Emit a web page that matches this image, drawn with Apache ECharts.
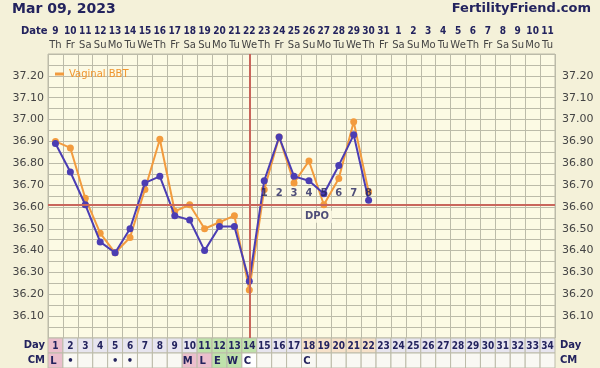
<!DOCTYPE html>
<html><head><meta charset="utf-8">
<script src="https://cdn.jsdelivr.net/npm/echarts@6/dist/echarts.min.js"></script>
<style>html,body{margin:0;padding:0;background:#f4f1d9}#c{width:600px;height:368px}</style>
</head><body><div id="c"></div>
<script>
// ---- data ----
const cycleDays = ['1','2','3','4','5','6','7','8','9','10','11','12','13','14','15','16','17','18','19','20','21','22','23','24','25','26','27','28','29','30','31','32','33','34'];
const dateLabels = ['9','10','11','12','13','14','15','16','17','18','19','20','21','22','23','24','25','26','27','28','29','30','31','1','2','3','4','5','6','7','8','9','10','11'];
const weekdays = ['Th','Fr','Sa','Su','Mo','Tu','We','Th','Fr','Sa','Su','Mo','Tu','We','Th','Fr','Sa','Su','Mo','Tu','We','Th','Fr','Sa','Su','Mo','Tu','We','Th','Fr','Sa','Su','Mo','Tu'];
const bbt = [36.89,36.76,36.61,36.44,36.39,36.50,36.71,36.74,36.56,36.54,36.40,36.51,36.51,36.26,36.72,36.92,36.74,36.72,36.66,36.79,36.93,36.63];
const vaginalBBT = [36.90,36.87,36.64,36.48,36.39,36.46,36.68,36.91,36.58,36.61,36.50,36.53,36.56,36.22,36.68,36.92,36.71,36.81,36.61,36.73,36.99,36.67];
const coverline = 36.61;
const ovulationDay = '14';
const dpoLabels = ['1','2','3','4','5','6','7','8'];
const dpoStartDay = 15;
const cmCodes = ['L','•','','','•','•','','','','M','L','E','W','C','','','','C','','','','','','','','','','','','','','','',''];
const tableRows = ['Day','CM'];
const yMin = 36.0, yMax = 37.3, yStep = 0.05;

// ---- styles ----
const NAVY = '#23235e';
const FONT = '"DejaVu Sans", Verdana, sans-serif';
const CFONT = '"DejaVu Sans Condensed", "Liberation Sans Narrow", "Liberation Sans", sans-serif';
const GRIDC = '#bcbba9';
function dayFill(d){
  if (d === 1) return '#ebbfcd';
  if (d >= 11 && d <= 14) return '#bfe2ab';
  if (d >= 18 && d <= 22) return '#f6e1c9';
  return '#e7e5ef';
}
function cmFill(code, d){
  if (code === 'L' || code === 'M') return '#ebbfcd';
  if (code === 'E' || code === 'W') return '#bfe2ab';
  if (code === 'C' && d === 14) return '#ffffff';
  return '#f9f8f3';
}

const tableData = [];
cycleDays.forEach((d, i) => {
  tableData.push([i, 0, d]);
  tableData.push([i, 1, cmCodes[i]]);
});

const dpoData = dpoLabels.map((t, i) => ({value: [String(dpoStartDay + i), coverline + 0.05], label: {formatter: t}}));

const yFmt = v => { const k = Math.round(v * 100); return (k % 10 === 0 && k >= 3610 && k <= 3720) ? (k / 100).toFixed(2) : ''; };

const chart = echarts.init(document.getElementById('c'), null, {renderer: 'canvas'});
chart.setOption({
  animation: false,
  backgroundColor: '#f4f1d9',
  textStyle: {fontFamily: FONT},
  graphic: [
    {type: 'text', left: 12, top: 2, style: {text: 'Mar 09, 2023', font: 'bold 14px ' + FONT, fill: NAVY}},
    {type: 'text', right: 9, top: 2, style: {text: 'FertilityFriend.com', font: 'bold 13px ' + FONT, fill: NAVY}},
    {type: 'text', left: 21, top: 26, style: {text: 'Date', font: 'bold 10px ' + FONT, fill: NAVY}}
  ],
  legend: {
    data: ['Vaginal BBT'], left: 53, top: 67, icon: 'rect', itemWidth: 9, itemHeight: 3, itemGap: 4,
    padding: [2, 2], textStyle: {color: '#f0962f', fontSize: 10, fontFamily: FONT}
  },
  grid: [
    {left: 48, right: 45, top: 54, height: 284, show: true, backgroundColor: '#fcfae4', borderColor: GRIDC, borderWidth: 1},
    {left: 48, right: 45, top: 338, height: 30, show: false}
  ],
  xAxis: [
    {type: 'category', gridIndex: 0, data: cycleDays, position: 'top', boundaryGap: true,
     axisLine: {show: false}, axisTick: {show: false},
     splitLine: {show: true, interval: 0, lineStyle: {color: GRIDC, width: 1}},
     axisLabel: {interval: 0, margin: 2, formatter: (v, i) => '{d|' + dateLabels[i] + '}\n{w|' + weekdays[i] + '}',
       rich: {d: {fontWeight: 'bold', fontSize: 10, color: NAVY, lineHeight: 14, fontFamily: CFONT},
              w: {fontSize: 10, color: '#444', lineHeight: 14, fontFamily: FONT}}}},
    {type: 'category', gridIndex: 1, data: cycleDays, boundaryGap: true, show: false}
  ],
  yAxis: [
    {type: 'value', gridIndex: 0, min: yMin, max: yMax, interval: yStep,
     axisLine: {show: false}, axisTick: {show: false},
     splitLine: {show: true, lineStyle: {color: GRIDC, width: 1}},
     axisLabel: {formatter: yFmt, color: '#444', fontSize: 11, margin: 4, fontFamily: FONT}},
    {type: 'value', gridIndex: 0, min: yMin, max: yMax, interval: yStep, position: 'right',
     axisLine: {show: false}, axisTick: {show: false}, splitLine: {show: false},
     axisLabel: {formatter: yFmt, color: '#444', fontSize: 11, margin: 7, fontFamily: FONT}},
    {type: 'category', gridIndex: 1, data: tableRows, inverse: true,
     axisLine: {show: false}, axisTick: {show: false}, splitLine: {show: false},
     axisLabel: {color: NAVY, fontWeight: 'bold', fontSize: 10, margin: 3, fontFamily: FONT}},
    {type: 'category', gridIndex: 1, data: tableRows, inverse: true, position: 'right',
     axisLine: {show: false}, axisTick: {show: false}, splitLine: {show: false},
     axisLabel: {color: NAVY, fontWeight: 'bold', fontSize: 10, margin: 5, align: 'left', fontFamily: FONT}}
  ],
  series: [
    {type: 'line', name: 'refLines', xAxisIndex: 0, yAxisIndex: 0, data: [], silent: true,
     markLine: {silent: true, symbol: 'none', label: {show: false},
       lineStyle: {color: '#c9665c', width: 2, type: 'solid'},
       data: [{yAxis: coverline}, {xAxis: ovulationDay}]}},
    {type: 'line', name: 'Vaginal BBT', xAxisIndex: 0, yAxisIndex: 0, data: vaginalBBT, z: 3,
     color: '#f29b3e', lineStyle: {width: 2, color: '#f29b3e'}, symbol: 'circle', symbolSize: 7,
     itemStyle: {color: '#f29b3e'}},
    {type: 'line', name: 'BBT', xAxisIndex: 0, yAxisIndex: 0, data: bbt, z: 4,
     color: '#4b3db3', lineStyle: {width: 2, color: '#4b3db3'}, symbol: 'circle', symbolSize: 7,
     itemStyle: {color: '#4b3db3'}},
    {type: 'scatter', xAxisIndex: 0, yAxisIndex: 0, data: dpoData, symbolSize: 0, z: 6, silent: true,
     label: {show: true, position: 'inside', color: NAVY, fontWeight: 'bold', fontSize: 10, fontFamily: FONT}},
    {type: 'scatter', xAxisIndex: 0, yAxisIndex: 0, data: [{value: ['18', coverline - 0.055]}], symbolSize: 0, z: 6, silent: true,
     label: {show: true, position: 'inside', offset: [8, 0], formatter: 'DPO', color: NAVY, fontWeight: 'bold', fontSize: 10, fontFamily: FONT,
       backgroundColor: '#fcfae4', padding: [1, 3]}},
    {type: 'custom', xAxisIndex: 1, yAxisIndex: 2, data: tableData, silent: true,
     renderItem: (params, api) => {
       const xi = api.value(0), yi = api.value(1);
       const d = xi + 1;
       const text = tableData[params.dataIndex][2];
       const p = api.coord([xi, yi]);
       const s = api.size([1, 1]);
       const fill = yi === 0 ? dayFill(d) : cmFill(text, d);
       return {type: 'group', children: [
         {type: 'rect', shape: {x: p[0] - s[0] / 2, y: p[1] - s[1] / 2, width: s[0], height: s[1]},
          style: {fill: fill, stroke: GRIDC, lineWidth: 1}},
         {type: 'text', style: {text: text, x: p[0] + (yi === 1 && text !== '•' ? -2 : 0), y: p[1] + 1, align: 'center', verticalAlign: 'middle',
           font: 'bold 10px ' + (yi === 0 ? CFONT : FONT), fill: NAVY}}
       ]};
     }}
  ]
});
</script></body></html>
